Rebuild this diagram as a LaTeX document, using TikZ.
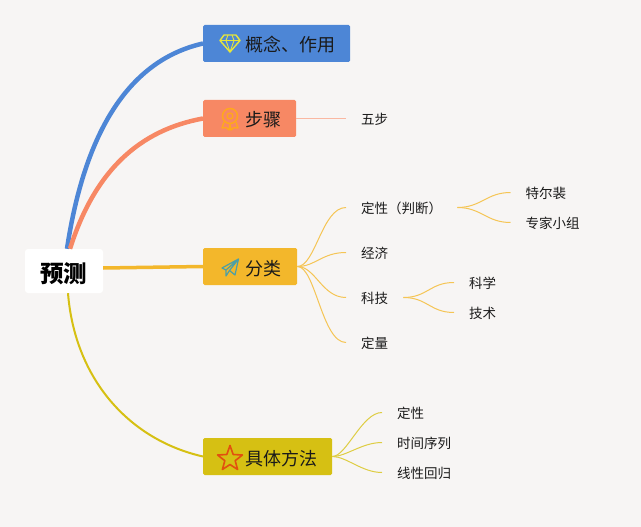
\documentclass[tikz,border=0pt]{standalone}
\usepackage{fontspec}
\usetikzlibrary{calc}
\setmainfont{Noto Sans CJK SC}
\definecolor{pagebg}{HTML}{F7F5F4}
\definecolor{blueb}{HTML}{4D86D6}
\definecolor{orangeb}{HTML}{F78864}
\definecolor{goldb}{HTML}{F3B72B}
\definecolor{yellowb}{HTML}{D6C013}
\definecolor{inkc}{HTML}{1A1A1A}
\definecolor{gemc}{HTML}{E6E63C}
\definecolor{medalc}{HTML}{FFA81C}
\definecolor{planec}{HTML}{4E9FA5}
\definecolor{starc}{HTML}{E2500F}
\tikzset{
  rootbox/.style={fill=white,rounded corners=3pt,inner sep=0pt,minimum width=78pt,minimum height=44pt,text height=22pt,text depth=0pt,font=\fontsize{23.5}{26}\selectfont\bfseries},
  branchbox/.style={anchor=west,rounded corners=1.5pt,inner sep=0pt,text width=#1,align=left,minimum height=37pt,text height=17pt,text depth=0pt,text=inkc,font=\fontsize{18}{20}\selectfont},
  leaf/.style={anchor=west,inner xsep=15pt,inner ysep=2pt,text height=12pt,text depth=0pt,text=inkc,font=\fontsize{13.5}{15}\selectfont},
  twig/.style={line width=1pt,#1!80},
}
\begin{document}
\begin{tikzpicture}[x=1pt,y=-1pt]
    \fill[pagebg] (0,0) rectangle (641,527);
    \useasboundingbox (0,0) rectangle (641,527);
    \node[rootbox] (root) at (64,271) {预测};
    \node[branchbox=147pt,fill=blueb] (concept) at (203,43.5) {\hspace*{42pt}概念、作用};
    \node[branchbox=93pt,fill=orangeb] (steps) at (203,118.5) {\hspace*{42pt}步骤};
    \node[branchbox=94pt,fill=goldb] (kinds) at (203,266.5) {\hspace*{42pt}分类};
    \node[branchbox=129pt,fill=yellowb] (methods) at (203,456.5) {\hspace*{42pt}具体方法};
    % main branches
    \draw[line width=4.5pt,blueb] ([xshift=3pt]root.north) .. controls (85,130) and (130,60) .. (concept.west);
    \draw[line width=4.5pt,orangeb] ([xshift=6pt]root.north) .. controls (95,170) and (140,130) .. (steps.west);
    \draw[line width=3.5pt,goldb] ([yshift=3pt]root.east) -- (kinds.west);
    \draw[line width=2pt,yellowb] ([xshift=4pt]root.south) .. controls (75,380) and (130,440) .. (methods.west);
    % leaves
    \node[leaf] (five) at (346,118.5) {五步};
    \node[leaf] (judge) at (346,207.5) {定性（判断）};
    \node[leaf] (econ) at (346,252.5) {经济};
    \node[leaf] (tech) at (346,297.5) {科技};
    \node[leaf] (quant) at (346,342.5) {定量};
    \node[leaf] (delphi) at (510.5,192.5) {特尔裴};
    \node[leaf] (panel) at (510.5,222.5) {专家小组};
    \node[leaf] (science) at (454,282.5) {科学};
    \node[leaf] (skill) at (454,312.5) {技术};
    \node[leaf] (quali) at (382,412.5) {定性};
    \node[leaf] (series) at (382,442.5) {时间序列};
    \node[leaf] (regress) at (382,472.5) {线性回归};
    \draw[line width=1.4pt,orangeb!60] (steps.east) -- (five.west);
    \foreach \leafname in {judge,econ,tech,quant}
      \draw[twig=goldb] (kinds.east) .. controls +(18,0) and ($(\leafname.west)+(-24,0)$) .. (\leafname.west);
    \foreach \leafname in {delphi,panel}
      \draw[twig=goldb] (judge.east) .. controls +(24,0) and ($(\leafname.west)+(-24,0)$) .. (\leafname.west);
    \foreach \leafname in {science,skill}
      \draw[twig=goldb] (tech.east) .. controls +(24,0) and ($(\leafname.west)+(-24,0)$) .. (\leafname.west);
    \foreach \leafname in {quali,series,regress}
      \draw[twig=yellowb] (methods.east) .. controls +(14,0) and ($(\leafname.west)+(-20,0)$) .. (\leafname.west);
    % icons
    \draw[line width=1.4pt,line join=round,gemc] (224,35) -- (236,35) -- (240,40.5) -- (230,52) -- (220,40.5) -- cycle;
    \draw[line width=.9pt,gemc] (220,40.5) -- (240,40.5) (226,40.5) -- (230,52) -- (234,40.5) (226,40.5) -- (228,35) (234,40.5) -- (232,35);
    \draw[line width=1.5pt,medalc] (230,116) circle (7.5pt);
    \draw[line width=1.3pt,medalc] (230,116) circle (3pt);
    \draw[line width=1.4pt,line join=round,medalc] (224,122) -- (222,128) -- (226,127.5) -- (229,130) -- (230,124.5) -- (231,130) -- (234,127.5) -- (238,128) -- (236,122);
    \draw[line width=1.2pt,line join=round,planec] (222,268) -- (238.5,259) -- (235,275) -- (229.5,270.5) -- (226,276) -- (226,270) -- cycle (226,270) -- (238.5,259) -- (229.5,270.5);
    \draw[line width=1.6pt,line join=round,starc] (230,445.5) -- (233.2,454.5) -- (242.4,455) -- (235.2,460.7) -- (237.6,469.5) -- (230,464.5) -- (222.4,469.5) -- (224.8,460.7) -- (217.6,455) -- (226.8,454.5) -- cycle;
\end{tikzpicture}
\end{document}
